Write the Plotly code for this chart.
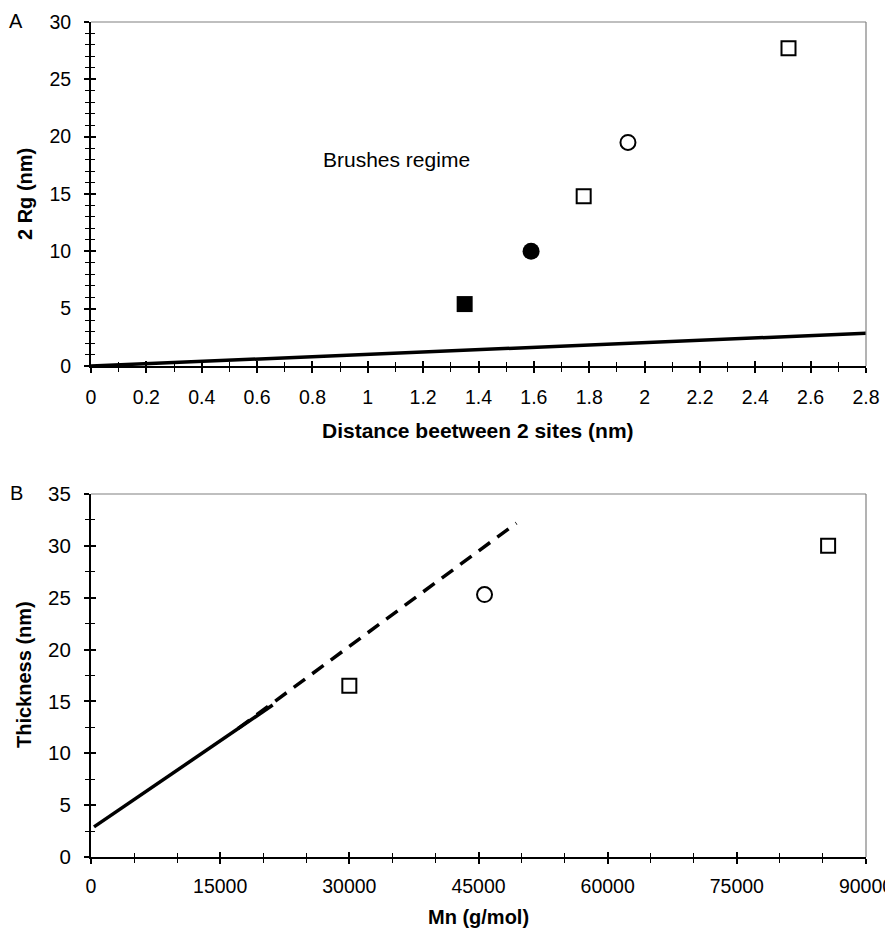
import plotly.graph_objects as go

# Panel A data
a_fsq_x = [1.35]; a_fsq_y = [5.4]
a_fci_x = [1.59]; a_fci_y = [10.0]
a_osq_x = [1.78, 2.52]; a_osq_y = [14.8, 27.7]
a_oci_x = [1.94]; a_oci_y = [19.5]
a_line_x = [0, 2.8]; a_line_y = [0, 2.85]

# Panel B data
b_osq_x = [30000, 85600]; b_osq_y = [16.5, 30.0]
b_oci_x = [45700]; b_oci_y = [25.3]
b_solid_x = [350, 21100]; b_solid_y = [2.9, 14.65]
b_dash_x = [17100, 49400]; b_dash_y = [12.4, 32.2]

FONT = "Liberation Sans, Arial, sans-serif"
OFF = 8  # page body margin
W, H = 893 - OFF, 930 - OFF
# plot area edges in screen pixels
SX0, SX1 = 91, 866
L = SX0 - OFF
R = W - (SX1 - OFF)
T = 22 - OFF
B = H - (857 - OFF)
ph = H - T - B
pw = W - L - R

def py(y):  # screen pixel y -> paper
    return (H - B - (y - OFF)) / ph

def px(x):  # screen pixel x -> paper
    return (x - OFF - L) / pw

def yd(top, bot):
    return [py(bot), py(top)]

dA = yd(22, 366)
dB = yd(494, 857)

fig = go.Figure()

# Panel A
fig.add_trace(go.Scatter(x=a_line_x, y=a_line_y, mode="lines", line=dict(color="black", width=3.5), xaxis="x", yaxis="y"))
fig.add_trace(go.Scatter(x=a_fsq_x, y=a_fsq_y, mode="markers", marker=dict(symbol="square", color="black", size=16, line=dict(width=0)), xaxis="x", yaxis="y"))
fig.add_trace(go.Scatter(x=a_fci_x, y=a_fci_y, mode="markers", marker=dict(symbol="circle", color="black", size=17, line=dict(width=0)), xaxis="x", yaxis="y"))
fig.add_trace(go.Scatter(x=a_osq_x, y=a_osq_y, mode="markers", marker=dict(symbol="square-open", color="black", size=14, line=dict(width=2)), xaxis="x", yaxis="y"))
fig.add_trace(go.Scatter(x=a_oci_x, y=a_oci_y, mode="markers", marker=dict(symbol="circle-open", color="black", size=15, line=dict(width=2)), xaxis="x", yaxis="y"))

# Panel B
fig.add_trace(go.Scatter(x=b_solid_x, y=b_solid_y, mode="lines", line=dict(color="black", width=3.5), xaxis="x2", yaxis="y2"))
fig.add_trace(go.Scatter(x=b_dash_x, y=b_dash_y, mode="lines", line=dict(color="black", width=3.5, dash="14px,9px"), xaxis="x2", yaxis="y2"))
fig.add_trace(go.Scatter(x=b_osq_x, y=b_osq_y, mode="markers", marker=dict(symbol="square-open", color="black", size=14, line=dict(width=2)), xaxis="x2", yaxis="y2"))
fig.add_trace(go.Scatter(x=b_oci_x, y=b_oci_y, mode="markers", marker=dict(symbol="circle-open", color="black", size=15, line=dict(width=2)), xaxis="x2", yaxis="y2"))


def axis(rng, dtick, minor_dtick, anchor, domain, fsize=19, overlay=None, inside=False, standoff=None, fmt=None):
    d = dict(range=rng, dtick=dtick, tick0=0, anchor=anchor, showgrid=False, zeroline=False,
             domain=domain, automargin=False,
             ticks="inside" if inside else "outside", ticklen=5, tickwidth=1.5, tickcolor="black",
             minor=dict(dtick=minor_dtick, tick0=0, ticks="inside" if inside else "outside", ticklen=4,
                        tickwidth=1.2, tickcolor="black", showgrid=False))
    if inside:
        d.update(overlaying=overlay, showticklabels=False, showline=False)
    else:
        d.update(showline=True, linecolor="black", linewidth=2, ticklabeloverflow="allow",
                 tickfont=dict(family=FONT, size=fsize, color="black"))
        if standoff is not None:
            d["ticklabelstandoff"] = standoff
        if fmt:
            d["tickformat"] = fmt
    return d

xdom = [0, 1]
fig.update_layout(
    width=W, height=H, showlegend=False,
    plot_bgcolor="white", paper_bgcolor="white",
    margin=dict(l=L, r=R, t=T, b=B),
    xaxis=axis([0, 2.8], 0.2, 0.1, "y", xdom, 19.5, standoff=8),
    yaxis=axis([0, 30], 5, 1, "x", dA, 19.5, standoff=9),
    xaxis2=axis([0, 90000], 15000, 5000, "y2", xdom, 19.5, standoff=6, fmt="d"),
    yaxis2=axis([0, 35], 5, 2.5, "x2", dB, 20.5, standoff=9),
    xaxis3=axis([0, 2.8], 0.2, 0.1, "y", xdom, overlay="x", inside=True),
    yaxis3=axis([0, 30], 5, 1, "x", dA, overlay="y", inside=True),
    xaxis4=axis([0, 90000], 15000, 5000, "y2", xdom, overlay="x2", inside=True),
    yaxis4=axis([0, 35], 5, 2.5, "x2", dB, overlay="y2", inside=True),
)

# dummy traces for overlay axes so they render
fig.add_trace(go.Scatter(x=[None], y=[None], xaxis="x3", yaxis="y3", hoverinfo="skip"))
fig.add_trace(go.Scatter(x=[None], y=[None], xaxis="x4", yaxis="y4", hoverinfo="skip"))

# Gray top/right borders
for xr, yr in [("x domain", "y domain"), ("x2 domain", "y2 domain")]:
    fig.add_shape(type="line", xref=xr, yref=yr, x0=0, x1=1, y0=1, y1=1, line=dict(color="#808080", width=1.2))
    fig.add_shape(type="line", xref=xr, yref=yr, x0=1, x1=1, y0=0, y1=1, line=dict(color="#808080", width=1.2))

bold = lambda s: dict(family=FONT, size=s, color="black", weight="bold")
reg = lambda s: dict(family=FONT, size=s, color="black")

fig.add_annotation(x=1.105, y=18.0, xref="x", yref="y", text="Brushes regime", showarrow=False, font=reg(21))
fig.add_annotation(x=px(16), y=py(21), xref="paper", yref="paper", text="A", showarrow=False,
                   xanchor="center", yanchor="middle", font=reg(20))
fig.add_annotation(x=px(16), y=py(493), xref="paper", yref="paper", text="B", showarrow=False,
                   xanchor="center", yanchor="middle", font=reg(20))
# axis titles
fig.add_annotation(x=px(478), y=py(431), xref="paper", yref="paper", text="Distance beetween 2 sites (nm)",
                   showarrow=False, xanchor="center", yanchor="middle", font=bold(21))
fig.add_annotation(x=px(478), y=py(917), xref="paper", yref="paper", text="Mn (g/mol)",
                   showarrow=False, xanchor="center", yanchor="middle", font=bold(20))
fig.add_annotation(x=px(25), y=py(194), xref="paper", yref="paper", text="2 Rg (nm)", textangle=-90,
                   showarrow=False, xanchor="center", yanchor="middle", font=bold(20))
fig.add_annotation(x=px(24), y=py(675), xref="paper", yref="paper", text="Thickness (nm)", textangle=-90,
                   showarrow=False, xanchor="center", yanchor="middle", font=bold(20))

fig.write_html("out.html")
